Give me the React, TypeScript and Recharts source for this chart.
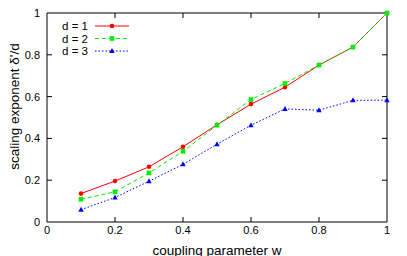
import React from "react";
import { LineChart, Line, XAxis, YAxis, ReferenceLine } from "recharts";

// coupling parameter w and the three measured curves
const W = [0.1, 0.2, 0.3, 0.4, 0.5, 0.6, 0.7, 0.8, 0.9, 1.0];
const D1 = [0.136, 0.196, 0.264, 0.36, 0.465, 0.564, 0.645, 0.751, 0.837, 1.0];
const D2 = [0.109, 0.144, 0.235, 0.338, 0.463, 0.586, 0.663, 0.751, 0.837, 1.0];
const D3 = [0.059, 0.117, 0.195, 0.276, 0.372, 0.463, 0.541, 0.535, 0.582, 0.583];
const TICKS = [0, 0.2, 0.4, 0.6, 0.8, 1];

const FONT = "'Liberation Sans', Arial, sans-serif";
// inward tick length in data units (~5px on each axis)
const TX = 0.024;
const TY = 0.0147;

const SERIES = [
  { key: "d1", name: "d = 1", color: "#ff0000", dash: undefined, shape: "circle" },
  { key: "d2", name: "d = 2", color: "#00ee00", dash: "4 3", shape: "square" },
  { key: "d3", name: "d = 3", color: "#0000ff", dash: "1.5 2", shape: "triangle" },
];

const data = W.map((w, i) => ({ w, d1: D1[i], d2: D2[i], d3: D3[i] }));

function Marker({ cx, cy, shape, color }: { cx: number; cy: number; shape: string; color: string }) {
  if (cx == null || cy == null) return null;
  if (shape === "circle") return <circle cx={cx} cy={cy} r={2.3} fill={color} />;
  if (shape === "square") return <rect x={cx - 2.3} y={cy - 2.3} width={4.6} height={4.6} fill={color} />;
  return <polygon points={`${cx},${cy - 3} ${cx - 2.7},${cy + 2} ${cx + 2.7},${cy + 2}`} fill={color} />;
}

function LegendBox() {
  return (
    <svg width={90} height={45} style={{ display: "block" }}>
      {SERIES.map((s, i) => {
        const y = 13 + i * 12.5;
        return (
          <g key={s.key}>
            <text x={40} y={y + 4} textAnchor="end" fontSize={11.5} fontFamily={FONT} fill="#000">
              {s.name}
            </text>
            <line x1={47} x2={81} y1={y} y2={y} stroke={s.color} strokeWidth={1} strokeDasharray={s.dash} />
            <Marker cx={64} cy={y} shape={s.shape} color={s.color} />
          </g>
        );
      })}
    </svg>
  );
}

const tickStyle = { fontSize: 11, fill: "#000", fontFamily: FONT };

const XLabel = ({ viewBox }: any) => (
  <text x={viewBox.x + viewBox.width / 2} y={viewBox.y + 32.7} textAnchor="middle" fontSize={13.5} fontFamily={FONT} fill="#000">
    coupling parameter w
  </text>
);

const YLabel = ({ viewBox }: any) => {
  const cx = viewBox.x + 7;
  const cy = viewBox.y + viewBox.height / 2 - 11;
  return (
    <text x={cx} y={cy} transform={`rotate(-90 ${cx} ${cy})`} textAnchor="middle" dominantBaseline="central" fontSize={13.5} fontFamily={FONT} fill="#000">
      scaling exponent δ'/d
    </text>
  );
};

export default function App() {
  return (
    <div style={{ position: "absolute", left: 0, top: 0, background: "#fff" }}>
      <LineChart width={407} height={256} data={data} margin={{ top: 13, right: 20, bottom: 0, left: 7 }}>
        <XAxis
          dataKey="w"
          type="number"
          domain={[0, 1]}
          ticks={TICKS}
          tickFormatter={(v) => String(v)}
          tick={tickStyle}
          tickLine={false}
          tickSize={-5}
          tickMargin={9}
          height={34}
          stroke="#000"
          label={<XLabel />}
        />
        <YAxis
          type="number"
          domain={[0, 1]}
          ticks={TICKS}
          tickFormatter={(v) => String(v)}
          tick={tickStyle}
          tickLine={false}
          tickSize={-5}
          tickMargin={12}
          width={40}
          stroke="#000"
          label={<YLabel />}
        />
        {/* gnuplot-style frame: top/right border and inward ticks on all sides */}
        <ReferenceLine y={1} stroke="#000" />
        <ReferenceLine x={1} stroke="#000" />
        {TICKS.filter((t) => t > 0 && t < 1).map((t) => (
          <ReferenceLine key={`xb${t}`} segment={[{ x: t, y: 0 }, { x: t, y: TX }]} stroke="#000" />
        ))}
        {TICKS.filter((t) => t > 0 && t < 1).map((t) => (
          <ReferenceLine key={`xt${t}`} segment={[{ x: t, y: 1 }, { x: t, y: 1 - TX }]} stroke="#000" />
        ))}
        {TICKS.filter((t) => t > 0 && t < 1).map((t) => (
          <ReferenceLine key={`yl${t}`} segment={[{ x: 0, y: t }, { x: TY, y: t }]} stroke="#000" />
        ))}
        {TICKS.filter((t) => t > 0 && t < 1).map((t) => (
          <ReferenceLine key={`yr${t}`} segment={[{ x: 1, y: t }, { x: 1 - TY, y: t }]} stroke="#000" />
        ))}
        {SERIES.map((s) => (
          <Line
            key={s.key}
            dataKey={s.key}
            name={s.name}
            stroke={s.color}
            strokeWidth={1}
            strokeDasharray={s.dash}
            isAnimationActive={false}
            dot={(p: any) => <Marker key={`${s.key}-${p.index}`} cx={p.cx} cy={p.cy} shape={s.shape} color={s.color} />}
            activeDot={false}
          />
        ))}
      </LineChart>
      <div style={{ position: "absolute", left: 48, top: 13 }}>
        <LegendBox />
      </div>
    </div>
  );
}
